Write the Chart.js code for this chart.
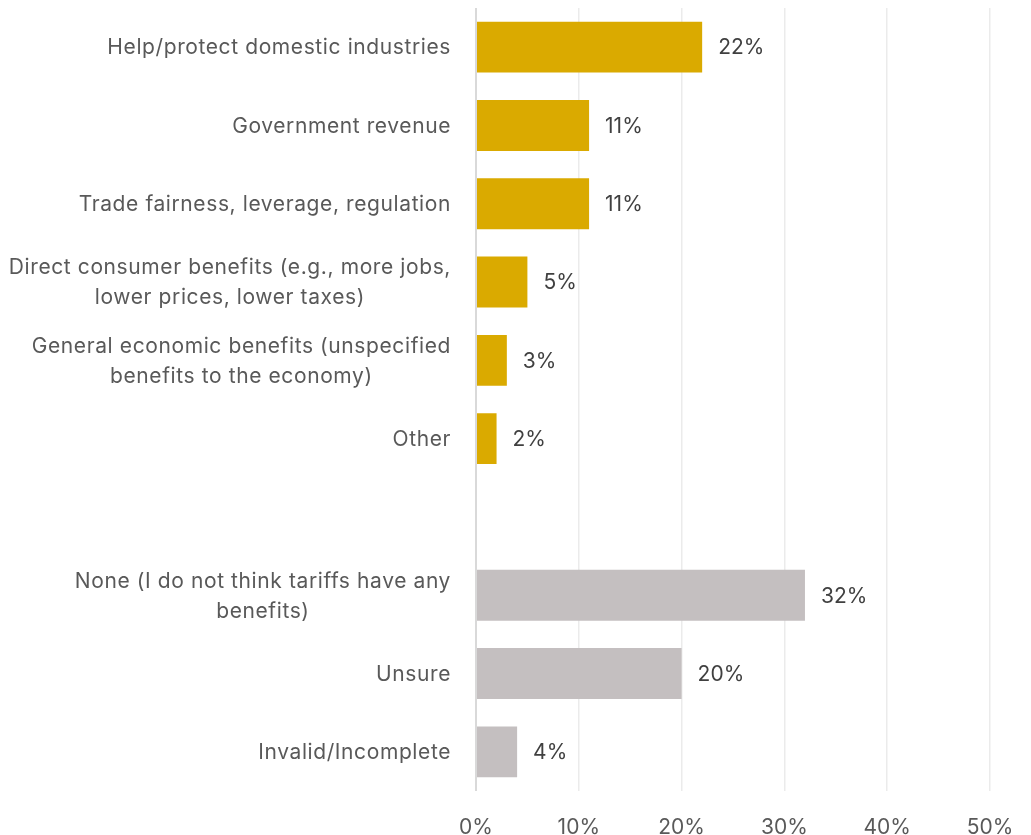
<!DOCTYPE html>
<html>
<head>
<meta charset="utf-8">
<script src="https://cdn.jsdelivr.net/npm/chart.js@4"></script>
<style>
  html, body { margin: 0; padding: 0; background: #ffffff; }
  canvas { display: block; }
</style>
</head>
<body>
<canvas id="chart" width="1031" height="835"></canvas>
<script>
// Perceived benefits of tariffs — share of respondents
const categories = [
  'Help/protect domestic industries',
  'Government revenue',
  'Trade fairness, leverage, regulation',
  ['Direct consumer benefits (e.g., more jobs,', 'lower prices, lower taxes)'],
  ['General economic benefits (unspecified', 'benefits to the economy)'],
  'Other',
  '',
  ['None (I do not think tariffs have any', 'benefits)'],
  'Unsure',
  'Invalid/Incomplete'
];
const shares = [22, 11, 11, 5, 3, 2, null, 32, 20, 4];
const axisTicks = [0, 10, 20, 30, 40, 50];

const GOLD = '#DAAA00';
const GREY = '#C4BFC0';
const FONT = 'Inter, Roboto, sans-serif';
// rows after the blank spacer are the "no benefit" answers
const spacerIndex = categories.indexOf('');

// Category names on the left: right-aligned block, wrapped lines centred within it
const categoryLabels = {
  id: 'categoryLabels',
  afterDraw(chart) {
    const { ctx, chartArea, scales } = chart;
    const right = chartArea.left - 25;
    const lineHeight = 30;
    ctx.save();
    ctx.font = '21px ' + FONT;
    ctx.letterSpacing = '0.6px';
    ctx.fillStyle = '#595959';
    ctx.textBaseline = 'middle';
    ctx.textAlign = 'center';
    categories.forEach((label, i) => {
      const lines = Array.isArray(label) ? label : [label];
      if (!lines[0]) return;
      const widest = Math.max(...lines.map(l => ctx.measureText(l).width));
      const cx = right - widest / 2;
      const cy = scales.y.getPixelForValue(i) + 1;
      const top = cy - (lines.length - 1) * lineHeight / 2;
      lines.forEach((l, k) => ctx.fillText(l, cx, top + k * lineHeight));
    });
    ctx.restore();
  }
};

// Percentage read-outs just past the end of each bar
const valueLabels = {
  id: 'valueLabels',
  afterDatasetsDraw(chart) {
    const { ctx, scales } = chart;
    ctx.save();
    ctx.font = '21px ' + FONT;
    ctx.fillStyle = '#404040';
    ctx.textBaseline = 'middle';
    ctx.textAlign = 'left';
    shares.forEach((v, i) => {
      if (v === null) return;
      ctx.fillText(v + '%', scales.x.getPixelForValue(v) + 16, scales.y.getPixelForValue(i) + 1);
    });
    ctx.restore();
  }
};

new Chart(document.getElementById('chart'), {
  type: 'bar',
  data: {
    labels: categories,
    datasets: [{
      data: shares,
      backgroundColor: ctx => ctx.dataIndex < spacerIndex ? GOLD : GREY,
      borderWidth: 0,
      categoryPercentage: 1,
      barPercentage: 0.65
    }]
  },
  options: {
    indexAxis: 'y',
    responsive: false,
    animation: false,
    devicePixelRatio: 1,
    layout: { padding: { top: 8, right: 41, left: 0, bottom: 0 } },
    plugins: {
      legend: { display: false },
      tooltip: { enabled: false }
    },
    scales: {
      x: {
        min: 0,
        max: 50,
        afterBuildTicks: s => { s.ticks = axisTicks.map(v => ({ value: v })); },
        ticks: {
          callback: v => v + '%',
          font: { family: FONT, size: 21 },
          color: '#595959',
          padding: 24
        },
        grid: {
          drawTicks: false,
          color: c => c.tick && c.tick.value === 0 ? '#D9D9D9' : '#EBEBEB',
          lineWidth: c => c.tick && c.tick.value === 0 ? 2 : 1.5
        },
        border: { display: false },
        afterFit: s => { s.height = 44; s.paddingLeft = 0; s.paddingRight = 0; }
      },
      y: {
        ticks: { display: false },
        grid: { display: false },
        border: { display: false },
        afterFit: s => { s.width = 476; }
      }
    }
  },
  plugins: [categoryLabels, valueLabels]
});
</script>
</body>
</html>
